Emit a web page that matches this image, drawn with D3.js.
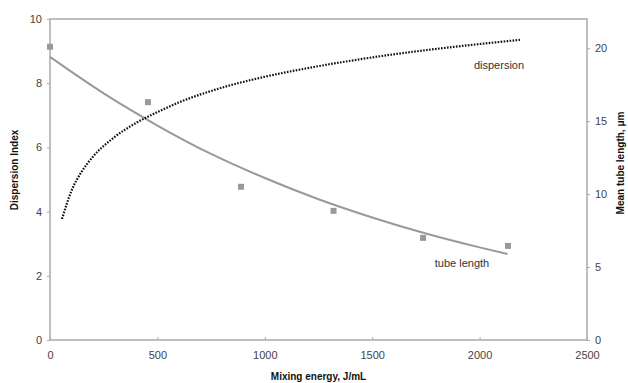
<!DOCTYPE html>
<html lang="en">
<head>
  <meta charset="UTF-8">
  <title>Dispersion vs mixing energy</title>
  <script src="https://cdn.jsdelivr.net/npm/d3@7/dist/d3.min.js"></script>
  <style>
    body { margin: 0; background: #fff; }
    svg { display: block; font-family: "Liberation Sans", Arial, sans-serif; }
    .tick text { font-size: 11px; fill: #444; }
    .axis-title { font-size: 10px; font-weight: bold; fill: #111; }
    .label { font-size: 11px; fill: #333; }
  </style>
</head>
<body>
  <svg width="628" height="383"></svg>
  <script>
    // measured tube length (right axis, um)
    const energy = [0, 456, 889, 1320, 1737, 2132];
    const tubeLength = [20.1, 16.3, 10.5, 8.85, 7.0, 6.45];

    // trend lines
    const dispX = [56, 100, 150, 200, 300, 400, 500, 600, 800, 1000, 1200, 1400, 1600, 1800, 2000, 2188];
    const dispY = [3.77, 4.65, 5.27, 5.71, 6.32, 6.76, 7.10, 7.40, 7.86, 8.20, 8.47, 8.70, 8.90, 9.07, 9.22, 9.35];
    const tubeFitX = [0, 250, 500, 750, 1000, 1250, 1500, 1750, 2000, 2130];
    const tubeFitY = [19.4, 16.9, 14.7, 12.75, 11.1, 9.65, 8.4, 7.3, 6.35, 5.9];

    const xTicks = [0, 500, 1000, 1500, 2000, 2500];
    const leftTicks = [0, 2, 4, 6, 8, 10];
    const rightTicks = [0, 5, 10, 15, 20];

    const svg = d3.select("svg");
    const plot = { left: 50, right: 587, top: 19, bottom: 340 };

    const x = d3.scaleLinear().domain([0, 2500]).range([plot.left, plot.right]);
    const yL = d3.scaleLinear().domain([0, 10]).range([plot.bottom, plot.top]);
    const yR = d3.scaleLinear().domain([0, 22]).range([plot.bottom, plot.top]);

    const axisColor = "#aaa";
    const fmt = d3.format("d");

    // frame
    svg.append("rect")
      .attr("x", plot.left).attr("y", plot.top)
      .attr("width", plot.right - plot.left).attr("height", plot.bottom - plot.top)
      .attr("fill", "none").attr("stroke", axisColor).attr("stroke-width", 1.5);

    const gx = svg.append("g").attr("transform", `translate(0,${plot.bottom})`)
      .call(d3.axisBottom(x).tickValues(xTicks).tickFormat(fmt).tickSize(-3).tickPadding(11));
    const gl = svg.append("g").attr("transform", `translate(${plot.left},0)`)
      .call(d3.axisLeft(yL).tickValues(leftTicks).tickFormat(fmt).tickSize(3).tickPadding(5));
    const gr = svg.append("g").attr("transform", `translate(${plot.right},0)`)
      .call(d3.axisRight(yR).tickValues(rightTicks).tickFormat(fmt).tickSize(3).tickPadding(5));

    [gx, gl, gr].forEach(g => {
      g.select(".domain").remove();
      g.selectAll(".tick line").attr("stroke", axisColor);
      g.selectAll(".tick text").attr("font-family", null).attr("font-size", null);
    });

    // tube length fit
    const tubeLine = d3.line()
      .x((d, i) => x(tubeFitX[i]))
      .y(d => yR(d))
      .curve(d3.curveMonotoneX);
    svg.append("path")
      .attr("d", tubeLine(tubeFitY))
      .attr("fill", "none")
      .attr("stroke", "#999")
      .attr("stroke-width", 2);

    // dispersion trend (dotted)
    const dispLine = d3.line()
      .x((d, i) => x(dispX[i]))
      .y(d => yL(d))
      .curve(d3.curveMonotoneX);
    svg.append("path")
      .attr("d", dispLine(dispY))
      .attr("fill", "none")
      .attr("stroke", "#111")
      .attr("stroke-width", 2.2)
      .attr("stroke-dasharray", "1.6,1.4");

    // measured points
    svg.selectAll("rect.pt")
      .data(energy)
      .enter().append("rect")
      .attr("class", "pt")
      .attr("x", d => x(d) - 3)
      .attr("y", (d, i) => yR(tubeLength[i]) - 3)
      .attr("width", 6).attr("height", 6)
      .attr("fill", "#999");

    // curve labels
    svg.append("text").attr("class", "label")
      .attr("x", 499).attr("y", 69).attr("text-anchor", "middle")
      .text("dispersion");
    svg.append("text").attr("class", "label")
      .attr("x", 462).attr("y", 267).attr("text-anchor", "middle")
      .text("tube length");

    // axis titles
    svg.append("text").attr("class", "axis-title")
      .attr("x", (plot.left + plot.right) / 2).attr("y", 380).attr("text-anchor", "middle")
      .text("Mixing energy, J/mL");
    svg.append("text").attr("class", "axis-title")
      .attr("transform", "translate(18,170) rotate(-90)")
      .attr("text-anchor", "middle")
      .text("Dispersion Index");
    svg.append("text").attr("class", "axis-title")
      .attr("transform", "translate(624,163) rotate(-90)")
      .attr("text-anchor", "middle")
      .text("Mean tube length, \u03bcm");
  </script>
</body>
</html>
